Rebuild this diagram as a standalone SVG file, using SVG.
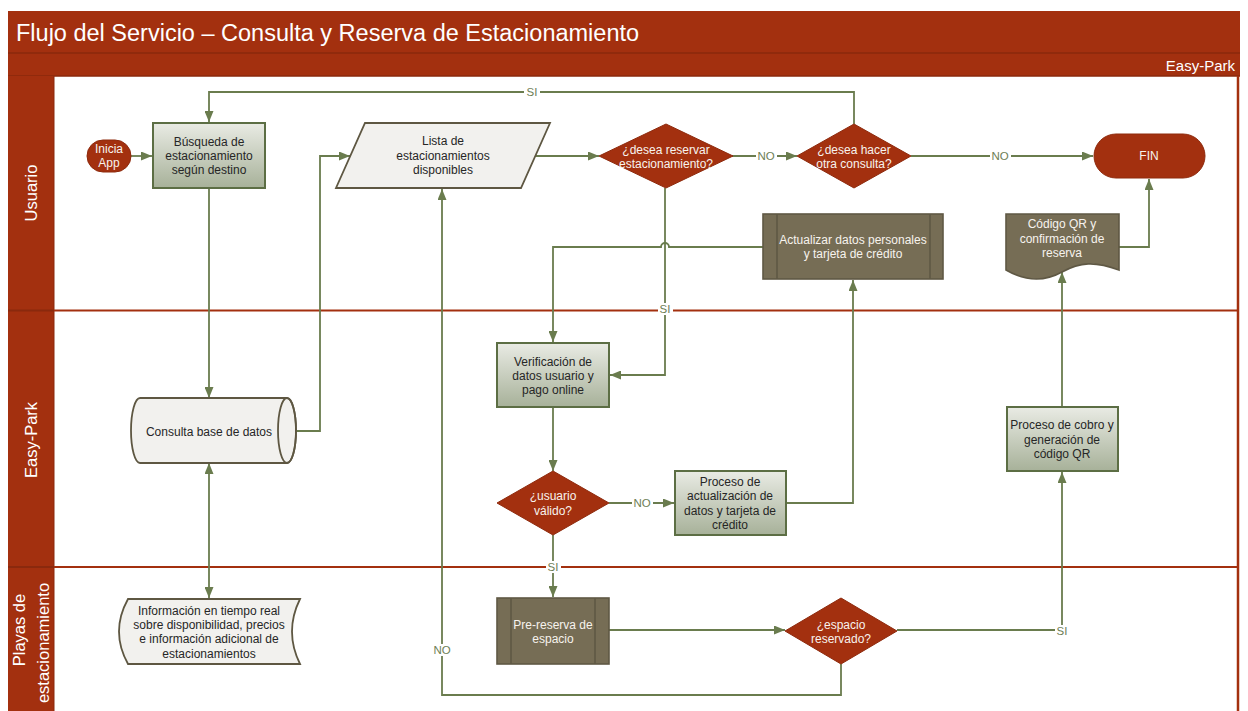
<svg xmlns="http://www.w3.org/2000/svg" width="1248" height="711" viewBox="0 0 1248 711">
<style>
.t{font-family:"Liberation Sans",Arial,sans-serif;font-size:12px;text-anchor:middle;fill:#262626}
.w{fill:#F7F3EE}
.lbl{font-family:"Liberation Sans",Arial,sans-serif;font-size:11.5px;text-anchor:middle;fill:#6E7E55}
.lane{font-family:"Liberation Sans",Arial,sans-serif;font-size:16.5px;text-anchor:middle;fill:#FFFFFF}
.green{fill:url(#gg);stroke:#5C6E44;stroke-width:2}
.olive{fill:#766D55;stroke:#5F5844;stroke-width:1.6}
.red{fill:#A3300F;stroke:#8E2A0D;stroke-width:1}
.light{fill:#F2F1EE;stroke:#5E5742;stroke-width:1.8}
.c{fill:none;stroke:#6A7C4E;stroke-width:1.8}
.a{marker-end:url(#arr)}
.lb{fill:#FFFFFF}
</style>
<defs>
<linearGradient id="gg" x1="0" y1="0" x2="0" y2="1">
<stop offset="0" stop-color="#E9EBE4"/>
<stop offset="1" stop-color="#A7B199"/>
</linearGradient>
<marker id="arr" viewBox="0 0 11 9" refX="11" refY="4.5" markerWidth="11" markerHeight="9" markerUnits="userSpaceOnUse" orient="auto-start-reverse">
<path d="M0,0 L11,4.5 L0,9 Z" fill="#6A7C4E"/>
</marker>
</defs>
<rect width="1248" height="711" fill="#FFFFFF"/>
<g id="frame">
<rect x="8" y="11" width="1232" height="42" fill="#A3300F"/>
<rect x="8" y="53" width="1232" height="23" fill="#A3300F"/>
<line x1="8" y1="53" x2="1240" y2="53" stroke="#8A290D" stroke-width="1.5"/>
<line x1="8" y1="76" x2="1240" y2="76" stroke="#8A290D" stroke-width="1.5"/>
<text x="16" y="41" font-family="'Liberation Sans',Arial,sans-serif" font-size="23.5" fill="#FFFFFF">Flujo del Servicio – Consulta y Reserva de Estacionamiento</text>
<text x="1235" y="71" font-family="'Liberation Sans',Arial,sans-serif" font-size="15" fill="#FFFFFF" text-anchor="end">Easy-Park</text>
<rect x="8" y="76" width="46" height="635" fill="#A3300F"/>
<line x1="54" y1="76" x2="54" y2="711" stroke="#8A290D" stroke-width="1"/>
<line x1="8" y1="310.5" x2="1238" y2="310.5" stroke="#A3300F" stroke-width="2"/>
<line x1="8" y1="567" x2="1238" y2="567" stroke="#A3300F" stroke-width="2"/>
<line x1="8" y1="310.5" x2="54" y2="310.5" stroke="#8A290D" stroke-width="2"/>
<line x1="8" y1="567" x2="54" y2="567" stroke="#8A290D" stroke-width="2"/>
<line x1="1238" y1="76" x2="1238" y2="711" stroke="#A3300F" stroke-width="2.5"/>
<text class="lane" transform="translate(37,193) rotate(-90)">Usuario</text>
<text class="lane" transform="translate(37,440) rotate(-90)">Easy-Park</text>
<text class="lane" transform="translate(25,630) rotate(-90)">Playas de</text>
<text class="lane" transform="translate(49,643) rotate(-90)">estacionamiento</text>
</g>
<g id="connectors">
<path class="c a" d="M131,156 H152"/>
<path class="c a" d="M209,188 V398"/>
<path class="c a" d="M209,463 V598" marker-start="url(#arr)"/>
<path class="c a" d="M296,431 H320 V156 H350"/>
<path class="c a" d="M535,156 H599"/>
<path class="c a" d="M732,156 H797"/>
<path class="c a" d="M911,156 H1093"/>
<path class="c a" d="M854,124 V92 H209 V122"/>
<path class="c a" d="M665,188 V375 H610"/>
<path class="c a" d="M763,247 H669 A4,4 0 0 0 661,247 H553 V342"/>
<path class="c a" d="M553,407 V471"/>
<path class="c a" d="M609,503 H674"/>
<path class="c a" d="M786,503 H853 V280"/>
<path class="c a" d="M553,535 V597"/>
<path class="c a" d="M609,630 H785"/>
<path class="c a" d="M897,630 H1062 V472"/>
<path class="c a" d="M841,664 V695 H442 V189"/>
<path class="c a" d="M1062,406 V272"/>
<path class="c a" d="M1119,247 H1149 V179"/>
<rect class="lb" x="524" y="86" width="16" height="12"/>
<text class="lbl" x="532" y="96">SI</text>
<rect class="lb" x="756" y="150" width="21" height="12"/>
<text class="lbl" x="766" y="160">NO</text>
<rect class="lb" x="990" y="150" width="21" height="12"/>
<text class="lbl" x="1000" y="160">NO</text>
<rect class="lb" x="658" y="303" width="15" height="12"/>
<text class="lbl" x="665" y="313">SI</text>
<rect class="lb" x="632" y="497" width="21" height="12"/>
<text class="lbl" x="642" y="507">NO</text>
<rect class="lb" x="546" y="561" width="15" height="12"/>
<text class="lbl" x="553" y="571">SI</text>
<rect class="lb" x="1055" y="625" width="15" height="12"/>
<text class="lbl" x="1062" y="635">SI</text>
<rect class="lb" x="432" y="644" width="21" height="12"/>
<text class="lbl" x="442" y="654">NO</text>
</g>
<g id="inicia">
<rect class="red" x="87" y="140" width="44" height="32" rx="16"/>
<text class="t w" x="109" y="153">Inicia</text>
<text class="t w" x="109" y="167">App</text>
</g>
<g id="busqueda">
<rect class="green" x="153" y="123" width="112" height="65"/>
<text class="t" x="209" y="146">Búsqueda de</text>
<text class="t" x="209" y="160">estacionamiento</text>
<text class="t" x="209" y="174">según destino</text>
</g>
<g id="lista">
<path class="light" d="M365,123 H550 L521,188 H336 Z"/>
<text class="t" x="443" y="145">Lista de</text>
<text class="t" x="443" y="160">estacionamientos</text>
<text class="t" x="443" y="174">disponibles</text>
</g>
<g id="d-reservar">
<path class="red" d="M666,124 L733,156 L666,188 L599,156 Z"/>
<text class="t w" x="666" y="154">¿desea reservar</text>
<text class="t w" x="666" y="168">estacionamiento?</text>
</g>
<g id="d-otra">
<path class="red" d="M854,124 L911,156 L854,188 L797,156 Z"/>
<text class="t w" x="854" y="154">¿desea hacer</text>
<text class="t w" x="854" y="168">otra consulta?</text>
</g>
<g id="fin">
<rect class="red" x="1094" y="134" width="111" height="44" rx="22"/>
<text class="t w" x="1149" y="160">FIN</text>
</g>
<g id="actualizar">
<rect class="olive" x="763" y="214" width="180" height="65"/>
<line x1="777" y1="214" x2="777" y2="279" stroke="#5F5844" stroke-width="1.6"/>
<line x1="930" y1="214" x2="930" y2="279" stroke="#5F5844" stroke-width="1.6"/>
<text class="t w" x="853" y="244">Actualizar datos personales</text>
<text class="t w" x="853" y="258">y tarjeta de crédito</text>
</g>
<g id="codigo-qr">
<path class="olive" d="M1006,214 H1119 V270 C1095,261 1080,262 1062,272 C1044,282 1025,281 1006,270 Z"/>
<text class="t w" x="1062" y="228">Código QR y</text>
<text class="t w" x="1062" y="243">confirmación de</text>
<text class="t w" x="1062" y="257">reserva</text>
</g>
<g id="verificacion">
<rect class="green" x="497" y="343" width="112" height="64"/>
<text class="t" x="553" y="366">Verificación de</text>
<text class="t" x="553" y="380">datos usuario y</text>
<text class="t" x="553" y="394">pago online</text>
</g>
<g id="consulta-bd">
<path class="light" d="M140,398 H287 A9,32.5 0 0 1 287,463 H140 A9,32.5 0 0 1 140,398 Z"/>
<ellipse cx="287" cy="430.5" rx="9" ry="32.5" fill="none" stroke="#5E5742" stroke-width="1.8"/>
<text class="t" x="209" y="436">Consulta base de datos</text>
</g>
<g id="d-usuario">
<path class="red" d="M553,471 L609,503 L553,535 L497,503 Z"/>
<text class="t w" x="553" y="500">¿usuario</text>
<text class="t w" x="553" y="515">válido?</text>
</g>
<g id="proceso-actualizacion">
<rect class="green" x="675" y="471" width="111" height="64"/>
<text class="t" x="730" y="486">Proceso de</text>
<text class="t" x="730" y="500">actualización de</text>
<text class="t" x="730" y="515">datos y tarjeta de</text>
<text class="t" x="730" y="529">crédito</text>
</g>
<g id="proceso-cobro">
<rect class="green" x="1007" y="407" width="111" height="64"/>
<text class="t" x="1062" y="429">Proceso de cobro y</text>
<text class="t" x="1062" y="444">generación de</text>
<text class="t" x="1062" y="458">código QR</text>
</g>
<g id="informacion">
<path class="light" d="M128,599 H300 Q284,631.5 300,664 H128 Q110,631.5 128,599 Z"/>
<text class="t" x="209" y="615">Información en tiempo real</text>
<text class="t" x="209" y="629">sobre disponibilidad, precios</text>
<text class="t" x="209" y="643">e información adicional de</text>
<text class="t" x="209" y="658">estacionamientos</text>
</g>
<g id="pre-reserva">
<rect class="olive" x="497" y="598" width="112" height="66"/>
<line x1="511" y1="598" x2="511" y2="664" stroke="#5F5844" stroke-width="1.6"/>
<line x1="595" y1="598" x2="595" y2="664" stroke="#5F5844" stroke-width="1.6"/>
<text class="t w" x="553" y="629">Pre-reserva de</text>
<text class="t w" x="553" y="643">espacio</text>
</g>
<g id="d-espacio">
<path class="red" d="M841,598 L897,631 L841,664 L785,631 Z"/>
<text class="t w" x="841" y="629">¿espacio</text>
<text class="t w" x="841" y="643">reservado?</text>
</g>
</svg>
